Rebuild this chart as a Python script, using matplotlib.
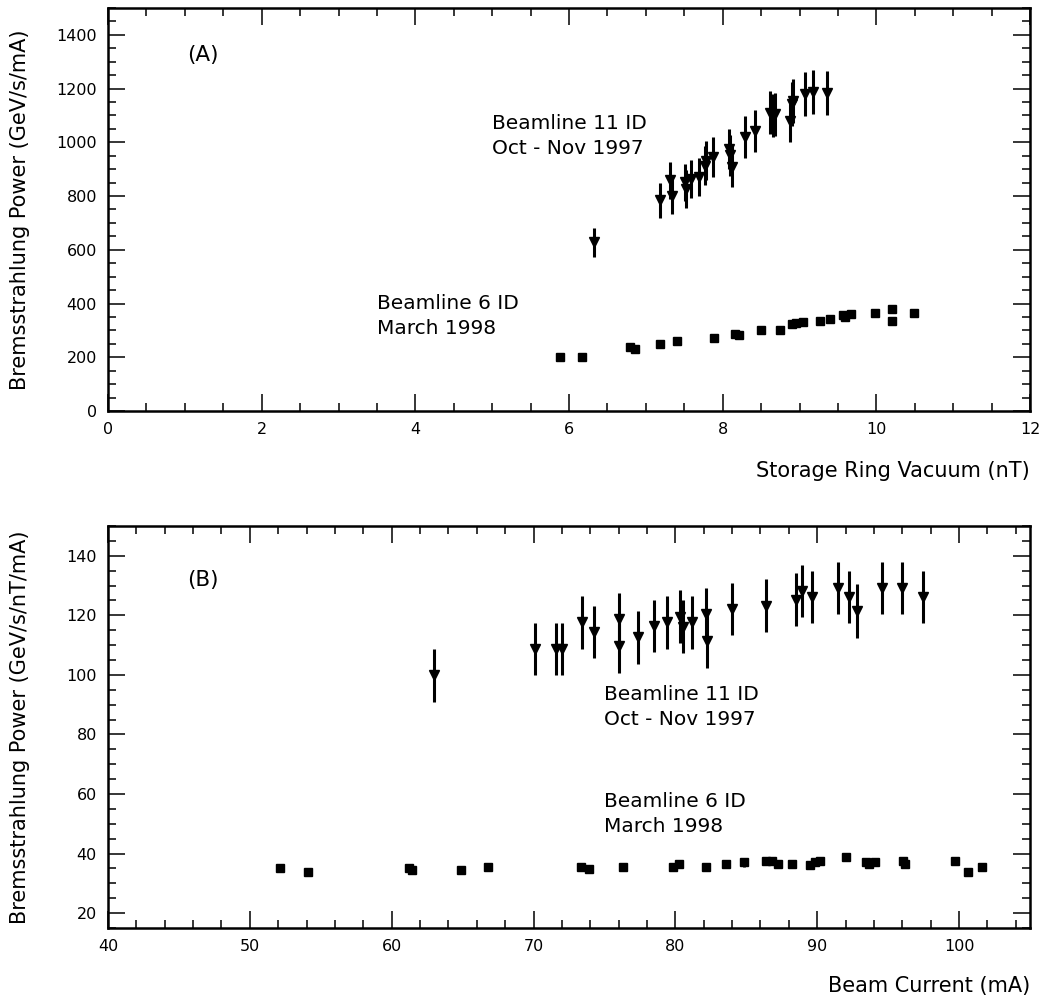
import matplotlib
matplotlib.use("Agg")
import matplotlib.pyplot as plt
from matplotlib.ticker import MultipleLocator

# ---------------- Panel A data ----------------
a_tri_x = [6.32, 7.18, 7.32, 7.34, 7.51, 7.52, 7.59, 7.69, 7.77, 7.78, 7.87,
           8.08, 8.09, 8.12, 8.29, 8.42, 8.62, 8.66, 8.68, 8.88, 8.90, 8.91,
           9.07, 9.17, 9.36]
a_tri_y = [629, 784, 858, 802, 851, 827, 864, 870, 913, 932, 944,
           975, 951, 910, 1019, 1041, 1111, 1099, 1105, 1081, 1143, 1155,
           1180, 1186, 1183]
a_tri_err = [54, 65, 68, 68, 70, 70, 70, 70, 72, 72, 74,
             75, 75, 75, 78, 78, 80, 80, 80, 80, 82, 82,
             82, 82, 82]

a_sq_x = [5.88, 6.17, 6.79, 6.86, 7.18, 7.40, 7.89, 8.16, 8.21, 8.50, 8.75,
          8.90, 8.96, 9.04, 9.27, 9.40, 9.57, 9.59, 9.67, 9.98, 10.20, 10.21,
          10.49]
a_sq_y = [202, 202, 239, 229, 248, 260, 272, 285, 282, 303, 303,
          322, 326, 332, 334, 344, 359, 350, 360, 363, 381, 334,
          365]

# ---------------- Panel B data ----------------
b_tri_x = [62.96, 70.11, 71.59, 71.99, 73.43, 74.23, 76.06, 75.99, 77.35,
           78.46, 79.43, 80.30, 80.53, 81.17, 82.13, 82.23, 83.99, 86.42,
           88.48, 88.96, 89.66, 91.43, 92.22, 92.81, 94.60, 95.99, 97.47]
b_tri_y = [99.8, 108.7, 108.7, 108.7, 117.6, 114.4, 118.7, 109.8, 112.6,
           116.4, 117.6, 119.6, 116.2, 117.6, 120.3, 111.4, 122.2, 123.3,
           125.3, 128.1, 126.1, 129.2, 126.1, 121.4, 129.2, 129.2, 126.2]
b_tri_err = [9.0, 8.8, 8.8, 8.8, 8.8, 8.8, 8.8, 9.0, 8.8,
             8.8, 8.8, 8.8, 8.8, 8.8, 9.0, 9.0, 8.8, 8.8,
             8.8, 8.8, 8.8, 8.8, 8.8, 9.0, 8.8, 8.8, 8.8]

b_sq_x = [52.13, 54.07, 61.24, 61.43, 64.89, 66.77, 73.36, 73.90, 76.30,
          79.83, 80.25, 82.13, 83.54, 84.81, 86.40, 86.84, 87.24, 88.22,
          89.47, 89.82, 90.18, 92.06, 93.42, 93.66, 94.06, 96.06, 96.18,
          99.70, 100.64, 101.63]
b_sq_y = [35.3, 33.7, 35.3, 34.4, 34.6, 35.6, 35.6, 34.8, 35.6,
          35.6, 36.4, 35.6, 36.4, 37.0, 37.6, 37.6, 36.4, 36.4,
          36.1, 37.2, 37.6, 38.7, 37.2, 36.4, 37.2, 37.6, 36.4,
          37.6, 33.7, 35.6]
b_sq_err = [1.0, 1.0, 1.0, 1.0, 1.0, 1.0, 1.0, 1.0, 1.0,
            1.0, 1.0, 1.0, 1.0, 1.5, 1.0, 1.0, 1.0, 1.0,
            1.0, 1.0, 1.0, 1.0, 1.0, 1.0, 1.0, 1.0, 1.0,
            1.0, 1.0, 1.0]

plt.rcParams['font.family'] = ['DejaVu Sans']

fig = plt.figure(figsize=(10.45, 10.05), dpi=100)
axA = fig.add_axes([108/1045, 1 - 411/1005, 922/1045, 403/1005])
axB = fig.add_axes([108/1045, 1 - 928/1005, 922/1045, 402/1005])


def style(ax):
    for s in ax.spines.values():
        s.set_linewidth(1.8)
    ax.tick_params(which='both', direction='in', top=True, right=True,
                   width=1.1, labelsize=11.5, pad=8)
    ax.tick_params(which='major', length=12)
    ax.tick_params(which='minor', length=6)
    for lab in ax.get_xticklabels() + ax.get_yticklabels():
        lab.set_fontweight('medium')


ann = dict(fontsize=14.5, ha='left', va='center', linespacing=1.4)

# Panel A
axA.errorbar(a_tri_x, a_tri_y, yerr=a_tri_err, fmt='v', color='black',
             markersize=7, elinewidth=2.2, capsize=0)
axA.plot(a_sq_x, a_sq_y, 's', color='black', markersize=6)
axA.set_xlim(0, 12)
axA.set_ylim(0, 1500)
axA.xaxis.set_major_locator(MultipleLocator(2))
axA.xaxis.set_minor_locator(MultipleLocator(0.5))
axA.set_yticks([0, 200, 400, 600, 800, 1000, 1200, 1400])
axA.yaxis.set_minor_locator(MultipleLocator(50))
style(axA)
axA.text(0.086, 0.883, '(A)', transform=axA.transAxes, fontsize=15.5,
         va='center', ha='left')
axA.text(5.0, 1025, 'Beamline 11 ID\nOct - Nov 1997', **ann)
axA.text(3.5, 353, 'Beamline 6 ID\nMarch 1998', **ann)
axA.set_xlabel('Storage Ring Vacuum (nT)', fontsize=15, loc='right',
               labelpad=17)
axA.set_ylabel('Bremsstrahlung Power (GeV/s/mA)', fontsize=15)
axA.yaxis.set_label_coords(-0.085, 0.5)

# Panel B
axB.errorbar(b_tri_x, b_tri_y, yerr=b_tri_err, fmt='v', color='black',
             markersize=7, elinewidth=2.2, capsize=0)
axB.errorbar(b_sq_x, b_sq_y, yerr=b_sq_err, fmt='s', color='black',
             markersize=5.5, elinewidth=2.0, capsize=0)
axB.set_xlim(40, 105)
axB.set_ylim(15, 150)
axB.xaxis.set_major_locator(MultipleLocator(10))
axB.xaxis.set_minor_locator(MultipleLocator(2))
axB.set_yticks([20, 40, 60, 80, 100, 120, 140])
axB.yaxis.set_minor_locator(MultipleLocator(5))
style(axB)
axB.text(0.086, 0.866, '(B)', transform=axB.transAxes, fontsize=15.5,
         va='center', ha='left')
axB.text(75.0, 89.3, 'Beamline 11 ID\nOct - Nov 1997', **ann)
axB.text(75.0, 53.3, 'Beamline 6 ID\nMarch 1998', **ann)
axB.set_xlabel('Beam Current (mA)', fontsize=15, loc='right', labelpad=16)
axB.set_ylabel('Bremsstrahlung Power (GeV/s/nT/mA)', fontsize=15)
axB.yaxis.set_label_coords(-0.085, 0.5)

fig.savefig('out.png', dpi=100)
